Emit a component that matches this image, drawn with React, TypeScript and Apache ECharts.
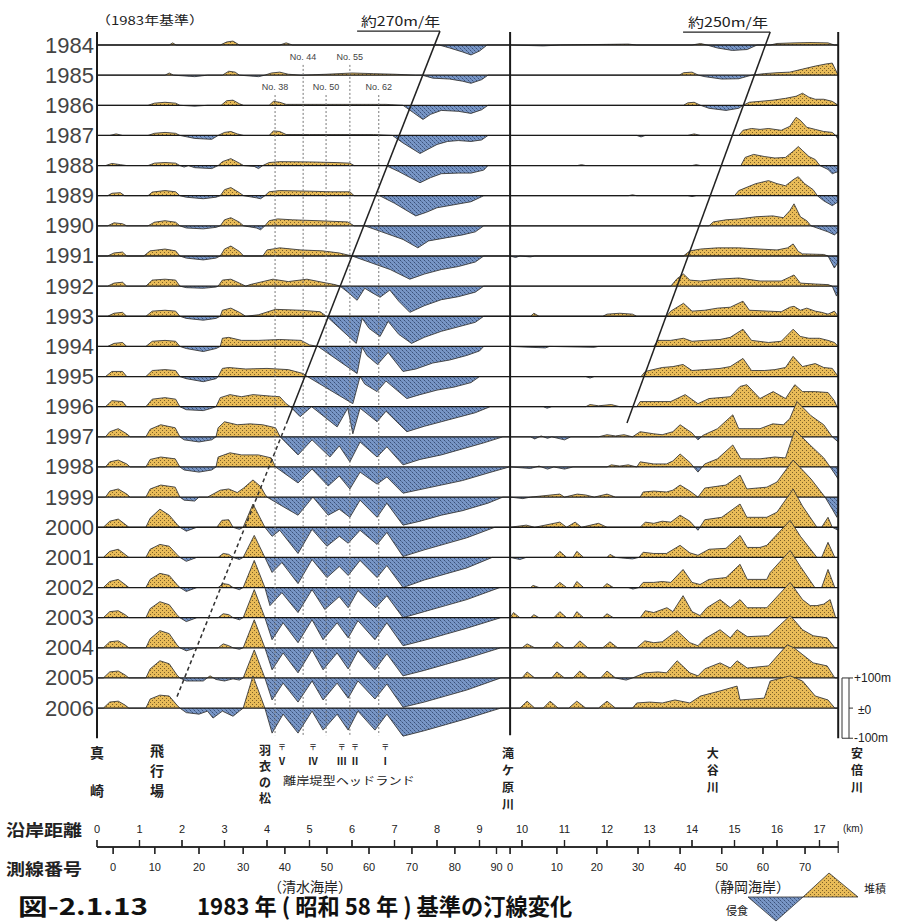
import { useEffect, useRef } from "react";
import * as echarts from "echarts";

// ---- Data (km along coast, shoreline change in m; + accretion, - erosion) ----
const YEARS = [1984, 1985, 1986, 1987, 1988, 1989, 1990, 1991, 1992, 1993, 1994, 1995, 1996, 1997, 1998, 1999, 2000, 2001, 2002, 2003, 2004, 2005, 2006];

const p1984: number[][] = [[0,0],[1.7,0],[1.78,7],[1.86,0],[2.9,0],[3.05,10],[3.2,13],[3.35,0],[4.3,0],[4.45,7],[4.6,0],[8.05,0],[8.3,-10],[8.6,-23],[8.8,-33],[9.0,-20],[9.18,0],
[9.72,0],[10.5,-3],[10.9,0],[12.5,3],[12.7,0],[14.0,0],[14.2,5],[14.35,0],[14.6,-10],[14.95,-18],[15.3,-15],[15.53,0],[15.84,0],[16.0,5],[16.4,7],[16.8,8],[17.2,7],[17.35,0],[17.44,0]];
const p1985: number[][] = [[0,0],[1.6,0],[1.7,7],[1.8,0],[2.3,-5],[2.6,0],[2.95,0],[3.1,13],[3.25,10],[3.35,0],[3.8,-5],[3.95,0],[4.1,7],[4.3,10],[4.5,3],[4.8,0],[5.4,3],[6.0,7],[6.5,5],[7.0,3],[7.5,0],[7.65,0],[7.9,-10],[8.3,-13],[8.6,-20],[8.8,-27],[9.05,-15],[9.2,0],
[9.72,0],[13.7,0],[13.8,8],[14.0,10],[14.15,0],[14.3,-5],[14.7,-13],[15.1,-12],[15.4,0],[15.7,5],[16.0,8],[16.3,10],[16.6,20],[16.9,30],[17.15,37],[17.3,40],[17.44,0]];
const p1986: number[][] = [[0,0],[1.2,0],[1.35,7],[1.6,10],[1.85,7],[1.95,0],[2.3,-3],[2.6,0],[2.92,0],[3.05,15],[3.2,17],[3.35,5],[3.45,0],[4.05,0],[4.15,13],[4.3,10],[4.45,3],[6.0,3],[6.8,3],[7.2,0],[7.45,-25],[7.67,-47],[7.85,-30],[8.1,-17],[8.5,-20],[8.8,-27],[9.05,-15],[9.2,0],
[9.72,0],[13.8,0],[13.9,8],[14.05,10],[14.2,0],[14.4,-10],[14.8,-17],[15.1,-10],[15.2,0],[15.35,10],[15.6,13],[15.9,17],[16.2,23],[16.45,30],[16.6,40],[16.75,27],[16.9,20],[17.1,20],[17.3,13],[17.44,0]];
const p1987: number[][] = [[0,0],[0.3,0],[0.45,5],[0.6,0],[1.2,0],[1.35,7],[1.6,10],[1.85,7],[1.95,0],[2.3,-10],[2.7,-13],[2.85,0],[3.0,10],[3.15,13],[3.3,5],[3.45,0],[4.05,0],[4.15,15],[4.3,13],[4.45,3],[5.0,3],[6.5,3],[6.95,0],[7.2,-25],[7.6,-60],[7.8,-45],[8.0,-30],[8.25,-20],[8.5,-17],[8.8,-20],[9.05,-15],[9.2,0],
[9.72,0],[12.7,0],[12.8,-5],[12.9,0],[13.9,0],[14.05,5],[14.2,0],[15.1,0],[15.2,17],[15.4,23],[15.6,20],[15.8,23],[16.1,17],[16.3,30],[16.45,60],[16.55,50],[16.7,27],[16.9,20],[17.1,13],[17.3,10],[17.38,0],[17.44,-13]];
const p1988: number[][] = [[0,0],[0.2,0],[0.35,7],[0.55,3],[0.7,0],[1.2,0],[1.35,8],[1.6,10],[1.85,8],[1.95,0],[2.05,-5],[2.15,0],[2.3,-7],[2.7,-10],[2.85,0],[2.95,13],[3.15,23],[3.35,8],[3.45,0],[3.7,-3],[3.8,-10],[3.9,0],[4.05,10],[4.3,13],[5.0,12],[5.6,10],[5.95,8],[6.05,0],[6.8,0],[7.1,-20],[7.6,-57],[7.85,-40],[8.1,-27],[8.5,-25],[8.8,-25],[9.1,-15],[9.2,0],
[9.72,0],[11.3,0],[11.4,3],[11.5,0],[14.0,0],[14.1,3],[14.2,0],[15.15,0],[15.25,27],[15.45,37],[15.7,30],[15.95,25],[16.2,27],[16.4,50],[16.5,63],[16.6,50],[16.75,30],[16.9,20],[17.01,0],[17.2,-13],[17.3,-27],[17.44,-20]];
const p1989: number[][] = [[0,0],[0.25,0],[0.35,8],[0.55,10],[0.65,0],[1.2,0],[1.3,12],[1.6,17],[1.85,13],[1.95,0],[2.1,-5],[2.5,-10],[2.8,-5],[2.9,0],[3.0,20],[3.15,27],[3.35,10],[3.45,0],[3.75,-7],[3.85,-10],[3.95,0],[4.05,13],[4.3,17],[5.0,15],[5.5,13],[5.95,13],[6.05,0],[6.65,0],[7.0,-25],[7.5,-67],[7.75,-55],[8.0,-40],[8.4,-30],[8.8,-20],[9.1,0],
[9.72,0],[12.5,0],[12.6,3],[12.7,0],[13.9,0],[14.0,-3],[14.1,0],[15.0,0],[15.1,17],[15.5,40],[15.8,50],[16.0,40],[16.2,33],[16.4,55],[16.5,63],[16.65,40],[16.85,20],[16.95,0],[17.1,-17],[17.3,-33],[17.44,-20]];
const p1990: number[][] = [[0,0],[0.25,0],[0.4,10],[0.6,7],[0.7,0],[1.2,0],[1.35,12],[1.6,17],[1.85,12],[1.95,0],[2.1,-7],[2.5,-10],[2.8,-5],[2.9,0],[3.0,20],[3.15,27],[3.35,12],[3.45,0],[3.75,-7],[3.85,-13],[3.95,0],[4.05,17],[4.25,23],[4.6,20],[5.2,17],[5.9,13],[6.05,0],[6.3,0],[6.7,-20],[7.2,-45],[7.55,-73],[7.8,-50],[8.2,-40],[8.6,-30],[8.9,-20],[9.1,0],
[9.72,0],[14.4,0],[14.5,13],[14.8,20],[15.1,23],[15.5,30],[15.9,33],[16.15,27],[16.3,50],[16.4,73],[16.55,30],[16.7,17],[16.8,0],[17.0,-10],[17.2,-20],[17.35,-30],[17.44,-20]];
const p1991: number[][] = [[0,0],[0.25,0],[0.4,10],[0.6,13],[0.7,0],[1.1,0],[1.25,17],[1.6,23],[1.85,17],[1.95,0],[2.1,-7],[2.5,-13],[2.8,-7],[2.9,0],[3.0,23],[3.15,33],[3.35,15],[3.45,0],[3.9,0],[4.0,20],[4.3,27],[4.8,20],[5.3,17],[5.7,10],[6.0,0],[6.4,-20],[6.9,-45],[7.36,-77],[7.7,-60],[8.1,-45],[8.5,-35],[8.9,-20],[9.1,0],
[9.72,0],[9.85,-5],[9.95,0],[10.2,-3],[10.3,0],[13.8,0],[13.95,17],[14.2,23],[14.6,27],[15.1,27],[15.6,23],[16.0,20],[16.25,27],[16.38,40],[16.5,15],[16.6,7],[17.1,5],[17.2,0],[17.35,-40],[17.44,-20]];
const p1992: number[][] = [[0,0],[0.25,0],[0.4,10],[0.6,13],[0.7,0],[1.15,0],[1.3,20],[1.6,23],[1.85,20],[1.95,0],[2.1,-5],[2.5,-7],[2.8,-3],[2.85,0],[2.95,20],[3.15,23],[3.35,10],[3.5,0],[3.6,5],[4.14,23],[4.5,15],[4.94,23],[5.3,13],[5.6,5],[5.72,0],[5.9,-20],[6.12,-47],[6.3,-7],[6.45,-20],[6.66,-37],[6.89,-13],[7.1,-50],[7.36,-87],[7.7,-65],[8.1,-45],[8.5,-35],[8.9,-20],[9.1,0],
[9.72,0],[13.5,0],[13.65,25],[13.8,40],[13.95,20],[14.2,17],[14.6,23],[15.1,27],[15.6,17],[16.1,17],[16.3,30],[16.4,37],[16.55,10],[16.9,7],[17.2,5],[17.3,0],[17.4,-33],[17.44,-20]];
const p1993: number[][] = [[0,0],[0.25,0],[0.4,10],[0.6,13],[0.7,0],[1.15,0],[1.3,17],[1.6,20],[1.85,17],[1.95,0],[2.1,-7],[2.5,-13],[2.8,-7],[2.9,0],[2.95,20],[3.15,27],[3.35,13],[3.5,0],[3.8,5],[4.2,23],[4.8,20],[5.25,15],[5.4,0],[6.1,-90],[6.24,-7],[6.4,-40],[6.66,-67],[6.85,-17],[7.1,-60],[7.4,-90],[7.7,-70],[8.1,-50],[8.5,-35],[8.9,-20],[9.1,0],
[9.72,0],[10.2,0],[10.28,10],[10.4,0],[11.9,0],[12.0,7],[12.3,10],[12.6,7],[12.7,0],[13.4,0],[13.5,17],[13.8,43],[14.0,17],[14.3,20],[14.6,27],[14.9,30],[15.2,50],[15.35,20],[15.8,17],[16.1,15],[16.3,30],[16.4,33],[16.55,20],[16.7,27],[16.9,17],[17.05,13],[17.2,7],[17.35,17],[17.44,0]];
const p1994: number[][] = [[0,0],[0.25,0],[0.4,10],[0.6,13],[0.7,0],[1.15,0],[1.3,17],[1.6,20],[1.85,17],[1.95,0],[2.1,-7],[2.5,-17],[2.8,-7],[2.9,0],[2.95,27],[3.1,30],[3.4,20],[3.8,20],[4.3,23],[4.8,20],[5.0,5],[5.2,0],[6.12,-90],[6.24,-3],[6.35,-30],[6.6,-60],[6.85,-20],[7.2,-83],[7.5,-75],[7.9,-55],[8.3,-45],[8.7,-30],[9.0,-15],[9.1,0],
[9.72,0],[10.55,-5],[10.65,0],[11.7,-3],[11.8,0],[13.1,0],[13.2,20],[13.5,20],[13.8,27],[14.0,17],[14.3,20],[14.66,23],[14.9,30],[15.2,57],[15.4,20],[15.8,13],[16.1,17],[16.38,57],[16.55,33],[16.75,27],[17.0,27],[17.2,20],[17.35,13],[17.44,0]];
const p1995: number[][] = [[0,0],[0.2,0],[0.35,17],[0.6,17],[0.7,0],[1.15,0],[1.3,20],[1.6,23],[1.85,20],[1.95,0],[2.1,-7],[2.5,-17],[2.8,-7],[2.85,0],[2.95,27],[3.1,30],[3.5,25],[4.0,27],[4.5,23],[4.85,10],[4.95,0],[6.02,-90],[6.19,0],[6.3,-25],[6.59,-50],[6.8,-15],[7.29,-73],[7.6,-60],[8.0,-45],[8.4,-35],[8.8,-20],[9.0,0],
[9.72,0],[11.5,0],[11.6,-5],[11.7,0],[12.8,0],[12.9,17],[13.3,30],[13.55,33],[13.79,40],[14.0,20],[14.3,23],[14.66,27],[14.9,33],[15.2,60],[15.4,20],[15.7,20],[15.95,23],[16.2,30],[16.38,67],[16.6,33],[16.9,43],[17.1,30],[17.3,27],[17.44,0]];
const p1996: number[][] = [[0,0],[0.2,0],[0.35,20],[0.6,17],[0.7,0],[1.15,0],[1.3,25],[1.6,30],[1.85,25],[1.95,0],[2.1,-10],[2.5,-13],[2.7,-5],[2.8,0],[2.9,30],[3.13,40],[3.4,33],[3.67,40],[4.1,35],[4.3,33],[4.45,10],[4.55,0],[4.78,-33],[5.05,0],[5.65,-67],[5.9,-5],[6.02,-90],[6.19,-5],[6.59,-50],[6.8,-15],[7.29,-83],[7.7,-65],[8.1,-50],[8.5,-35],[8.9,-20],[9.25,0],
[9.72,0],[10.5,0],[10.59,-5],[10.7,0],[11.5,0],[11.6,7],[11.8,3],[12.1,7],[12.3,0],[12.7,0],[12.78,17],[13.2,17],[13.5,17],[13.84,40],[14.14,10],[14.4,27],[14.9,33],[15.13,67],[15.29,73],[15.6,27],[15.91,50],[16.2,27],[16.42,73],[16.6,50],[16.9,50],[17.2,47],[17.35,20],[17.41,0],[17.44,-10]];
const p1997: number[][] = [[0,0],[0.2,0],[0.3,17],[0.5,27],[0.7,10],[0.78,0],[1.15,0],[1.25,25],[1.5,40],[1.84,30],[1.95,0],[2.05,-10],[2.4,-17],[2.7,-10],[2.8,0],[2.85,30],[3.0,50],[3.3,40],[3.6,43],[3.9,40],[4.2,30],[4.31,0],[4.73,-60],[5.06,-10],[5.48,-67],[5.7,-30],[5.95,-83],[6.19,-17],[6.59,-67],[6.82,-33],[7.2,-93],[7.6,-75],[8.1,-60],[8.6,-40],[9.1,-20],[9.55,0],
[9.72,0],[10.2,0],[10.3,-7],[10.45,3],[10.6,-5],[10.7,0],[11.0,-10],[11.15,0],[11.8,0],[12.0,7],[12.2,3],[12.4,7],[12.6,0],[12.78,17],[13.1,10],[13.3,7],[13.55,17],[13.72,40],[14.0,13],[14.14,-10],[14.26,5],[14.6,27],[14.96,73],[15.1,27],[15.6,27],[15.9,43],[16.15,40],[16.3,60],[16.47,117],[16.8,70],[17.1,40],[17.3,0],[17.44,-17]];
const p1998: number[][] = [[0,0],[0.2,0],[0.3,17],[0.5,23],[0.7,10],[0.78,0],[1.15,0],[1.25,25],[1.5,33],[1.84,27],[1.95,0],[2.05,-10],[2.4,-17],[2.7,-10],[2.8,0],[2.85,33],[3.13,47],[3.4,40],[3.8,40],[4.1,30],[4.2,0],[4.73,-53],[5.06,-7],[5.44,-63],[5.7,-30],[5.95,-73],[6.19,-17],[6.59,-57],[6.82,-33],[7.2,-87],[7.6,-75],[8.1,-60],[8.6,-45],[9.2,-20],[9.7,0],
[9.72,0],[10.2,-5],[10.4,3],[10.6,-7],[10.75,0],[11.0,-7],[11.2,0],[12.0,0],[12.1,7],[12.3,3],[12.5,7],[12.7,0],[12.78,17],[13.1,10],[13.4,10],[13.55,20],[13.72,43],[13.95,15],[14.14,-17],[14.3,10],[14.6,27],[14.96,73],[15.15,27],[15.6,27],[15.95,33],[16.2,30],[16.42,123],[16.8,70],[17.1,30],[17.25,0],[17.44,-40]];
const p1999: number[][] = [[0,0],[0.2,0],[0.3,20],[0.5,27],[0.7,10],[0.78,0],[1.15,0],[1.25,27],[1.5,40],[1.84,33],[1.95,0],[2.05,-10],[2.3,-13],[2.4,0],[2.6,0],[2.9,23],[3.1,27],[3.3,15],[3.45,30],[3.67,57],[3.85,35],[3.95,10],[4.0,0],[4.3,-25],[4.73,-60],[5.08,0],[5.44,-60],[5.7,-40],[5.95,-67],[6.19,-10],[6.59,-67],[6.82,-20],[7.2,-93],[7.6,-80],[8.1,-60],[8.6,-45],[9.2,-20],[9.55,0],
[9.72,0],[10.02,-5],[10.2,0],[10.89,10],[11.0,0],[11.3,10],[11.5,7],[11.7,0],[12.0,10],[12.2,0],[12.78,0],[12.85,17],[13.1,20],[13.4,17],[13.55,23],[13.72,40],[13.95,20],[14.14,0],[14.3,30],[14.8,40],[15.13,73],[15.29,27],[15.76,33],[16.0,50],[16.38,123],[16.8,60],[17.13,0],[17.3,-40],[17.41,-67],[17.44,-40]];
const p2000: number[][] = [[0,0],[0.15,0],[0.3,20],[0.5,27],[0.66,10],[0.75,0],[1.15,0],[1.25,30],[1.48,60],[1.7,40],[1.88,10],[1.95,0],[2.1,-13],[2.35,0],[2.82,0],[2.94,23],[3.1,25],[3.2,0],[3.35,-7],[3.44,0],[3.67,77],[3.95,0],[4.12,-30],[4.3,-10],[4.73,-87],[5.06,-7],[5.41,-63],[5.7,-30],[5.91,-53],[6.19,-10],[6.59,-57],[6.82,-17],[7.2,-97],[7.7,-75],[8.2,-55],[8.7,-35],[9.36,0],
[9.72,0],[10.1,7],[10.3,0],[10.89,17],[11.05,0],[11.25,17],[11.4,0],[11.8,13],[12.0,0],[12.78,0],[12.9,17],[13.1,13],[13.3,20],[13.5,17],[13.72,40],[13.95,20],[14.14,-10],[14.3,25],[14.7,33],[15.13,77],[15.29,33],[15.76,33],[16.0,50],[16.38,127],[16.6,70],[16.94,0],[17.05,0],[17.2,33],[17.3,0],[17.44,-10]];
const p2001: number[][] = [[0,0],[0.15,0],[0.3,20],[0.5,27],[0.66,10],[0.75,0],[1.15,0],[1.25,27],[1.48,43],[1.7,37],[1.88,10],[1.95,0],[2.1,-13],[2.35,0],[2.85,0],[2.97,13],[3.1,10],[3.2,0],[3.35,-7],[3.44,0],[3.7,73],[3.95,0],[4.12,-50],[4.35,-17],[4.73,-87],[5.06,-7],[5.41,-67],[5.7,-30],[5.91,-60],[6.19,-10],[6.59,-67],[6.82,-27],[7.2,-100],[7.7,-75],[8.2,-55],[8.7,-35],[9.3,0],
[9.72,0],[9.95,-7],[10.1,0],[10.75,0],[10.89,20],[11.05,0],[11.2,0],[11.29,20],[11.45,0],[12.0,0],[12.07,10],[12.2,0],[12.6,-5],[12.75,0],[12.85,17],[13.1,13],[13.4,13],[13.72,40],[13.95,15],[14.14,7],[14.4,27],[14.8,30],[15.13,73],[15.3,33],[15.6,33],[15.76,40],[16.31,123],[16.55,70],[16.94,0],[17.05,0],[17.2,50],[17.36,0],[17.44,0]];
const p2002: number[][] = [[0,0],[0.15,0],[0.3,20],[0.5,27],[0.66,10],[0.75,0],[1.15,0],[1.25,27],[1.48,47],[1.7,40],[1.88,10],[1.95,0],[2.1,-13],[2.35,0],[2.85,0],[2.97,13],[3.1,10],[3.2,0],[3.35,-7],[3.44,0],[3.7,90],[3.95,0],[4.07,-60],[4.35,-17],[4.73,-83],[5.06,-7],[5.36,-73],[5.7,-30],[5.91,-67],[6.14,-10],[6.56,-67],[6.82,-27],[7.2,-100],[7.7,-80],[8.2,-60],[8.7,-40],[9.48,0],
[9.72,0],[10.2,0],[10.26,7],[10.4,0],[10.75,0],[10.89,17],[11.05,0],[11.2,0],[11.29,20],[11.45,0],[11.9,0],[12.0,13],[12.15,0],[12.5,0],[12.61,-5],[12.75,0],[12.85,17],[13.1,17],[13.3,20],[13.5,17],[13.79,60],[14.0,17],[14.19,10],[14.4,27],[14.8,33],[15.13,77],[15.3,27],[15.76,27],[15.84,50],[16.31,123],[16.55,70],[16.89,0],[17.05,0],[17.2,60],[17.36,0],[17.44,0]];
const p2003: number[][] = [[0,0],[0.15,0],[0.3,20],[0.5,23],[0.66,10],[0.75,0],[1.15,0],[1.25,30],[1.48,53],[1.7,43],[1.88,10],[1.95,0],[2.1,-13],[2.35,0],[2.85,0],[2.97,13],[3.1,10],[3.2,0],[3.35,-7],[3.44,0],[3.7,93],[3.95,0],[4.12,-73],[4.38,-17],[4.73,-83],[5.06,-7],[5.32,-73],[5.65,-17],[5.91,-67],[6.14,-10],[6.54,-73],[6.82,-17],[7.2,-93],[7.7,-75],[8.2,-55],[8.7,-35],[9.5,0],
[9.72,0],[9.8,17],[9.95,0],[10.2,0],[10.28,10],[10.4,0],[10.75,0],[10.89,20],[11.05,0],[11.2,0],[11.29,20],[11.45,0],[11.9,0],[12.0,13],[12.15,0],[12.78,0],[12.9,23],[13.1,17],[13.41,33],[13.55,20],[13.79,73],[14.0,20],[14.19,7],[14.35,33],[14.66,60],[14.9,33],[15.13,60],[15.3,33],[15.76,33],[16.31,117],[16.6,60],[16.78,40],[16.94,40],[17.1,45],[17.25,60],[17.38,0],[17.44,0]];
const p2004: number[][] = [[0,0],[0.15,0],[0.3,20],[0.5,23],[0.66,10],[0.75,0],[1.15,0],[1.25,30],[1.48,57],[1.7,47],[1.88,10],[1.95,0],[2.1,-10],[2.35,0],[2.85,0],[2.97,13],[3.1,7],[3.2,0],[3.35,-5],[3.44,0],[3.7,93],[3.95,0],[4.12,-73],[4.38,-17],[4.73,-83],[5.06,-7],[5.32,-73],[5.65,-17],[5.91,-70],[6.14,-10],[6.54,-73],[6.82,-20],[7.2,-93],[7.7,-75],[8.2,-55],[8.7,-35],[9.5,0],
[9.72,0],[10.0,0],[10.12,13],[10.3,0],[10.7,0],[10.82,20],[11.0,0],[11.2,0],[11.36,23],[11.55,0],[11.9,0],[12.07,20],[12.25,0],[12.7,0],[12.89,23],[13.1,17],[13.3,20],[13.65,57],[13.95,17],[14.14,7],[14.3,30],[14.66,60],[14.9,33],[15.06,60],[15.3,37],[15.8,40],[16.31,107],[16.6,60],[16.85,40],[17.18,33],[17.36,0],[17.44,0]];
const p2005: number[][] = [[0,0],[0.15,0],[0.3,20],[0.5,23],[0.66,10],[0.75,0],[1.15,0],[1.25,30],[1.48,57],[1.7,47],[1.88,10],[1.95,0],[2.1,-10],[2.5,-10],[2.66,7],[2.8,-5],[3.0,-10],[3.2,-3],[3.35,-7],[3.44,0],[3.7,93],[3.95,0],[4.12,-73],[4.38,-17],[4.73,-80],[5.06,-10],[5.32,-73],[5.65,-17],[5.91,-67],[6.14,-10],[6.54,-70],[6.82,-20],[7.2,-97],[7.7,-80],[8.2,-60],[8.7,-40],[9.5,0],
[9.72,0],[10.0,0],[10.12,20],[10.3,0],[10.7,0],[10.82,20],[11.0,0],[11.2,0],[11.36,23],[11.55,0],[11.85,0],[12.0,23],[12.2,0],[12.45,-7],[12.6,0],[12.89,17],[13.2,20],[13.4,17],[13.65,57],[13.95,17],[14.14,7],[14.3,30],[14.66,50],[14.9,33],[15.06,57],[15.3,33],[15.8,40],[16.24,110],[16.4,100],[16.85,50],[17.18,40],[17.36,0],[17.44,0]];
const p2006: number[][] = [[0,0],[0.15,0],[0.3,20],[0.5,23],[0.66,10],[0.75,0],[1.15,0],[1.25,30],[1.48,43],[1.7,40],[1.88,10],[1.95,0],[2.1,-15],[2.4,-20],[2.6,-10],[2.73,-33],[2.95,-10],[3.2,-27],[3.35,-10],[3.44,0],[3.67,107],[3.95,0],[4.12,-83],[4.38,-20],[4.73,-83],[5.06,-10],[5.32,-73],[5.65,-20],[5.91,-73],[6.14,-10],[6.54,-73],[6.82,-20],[7.2,-93],[7.7,-75],[8.2,-55],[8.7,-35],[9.5,0],
[9.72,0],[9.95,0],[10.12,23],[10.3,0],[10.5,0],[10.66,23],[10.85,0],[11.1,0],[11.29,23],[11.5,0],[11.8,0],[12.0,23],[12.2,0],[12.6,0],[12.7,17],[13.0,20],[13.3,17],[13.6,27],[13.95,17],[14.2,40],[14.66,57],[15.06,73],[15.13,27],[15.7,33],[15.84,90],[16.31,107],[16.6,90],[16.9,40],[17.2,27],[17.36,0],[17.44,0]];

const PROFILES = [p1984, p1985, p1986, p1987, p1988, p1989, p1990, p1991, p1992, p1993, p1994, p1995, p1996, p1997, p1998, p1999, p2000, p2001, p2002, p2003, p2004, p2005, p2006];

// distance axis ticks (km)
const KM_TICKS = [0, 1, 2, 3, 4, 5, 6, 7, 8, 9, 10, 11, 12, 13, 14, 15, 16, 17];
// survey line ticks (km position -> survey number)
const SURVEY_KM = [0.38, 1.36, 2.4, 3.44, 4.42, 5.41, 6.4, 7.41, 8.42, 9.4, 9.72, 10.82, 11.76, 12.73, 13.72, 14.7, 15.67, 16.66];
const SURVEY_NO = ["0", "10", "20", "30", "40", "50", "60", "70", "80", "90", "0", "10", "20", "30", "40", "50", "60", "70"];

// monitored survey lines (dotted)
const NO_LINE_KM = [4.19, 4.85, 5.39, 5.95, 6.63];
const NO_LINE_LABEL = ["No. 38", "No. 44", "No. 50", "No. 55", "No. 62"];
const NO_LINE_TOP = [-166, -66, -166, -66, -166];

// headlands
const HEADLAND_KM = [4.35, 5.08, 5.76, 6.07, 6.78];
const HEADLAND_LABEL = ["Ⅴ", "Ⅳ", "Ⅲ", "Ⅱ", "Ⅰ"];

// place names along the coast
const PLACE_NAME = ["真崎", "飛行場", "羽衣の松", "滝ケ原川", "大谷川", "安倍川"];
const PLACE_KM = [0, 1.41, 3.95, 9.67, 14.49, 17.88];

// front-advance lines  [km, value on row axis]
const RATE270 = [[6.12, 46], [8.07, 46], [4.49, -1244], [1.88, -2163]];
const RATE250 = [[13.79, 43], [15.84, 43], [12.47, -1254]];

const X_MAX = 17.44;
const ROW = 100;
const DIVIDE_KM = 9.72;
const PX_PER_M = 0.30141;
const GRID_LEFT = 97;
const GRID_WIDTH = 741.2;
const GRID_TOP = 45 - 100 * PX_PER_M;
const AXIS_Y = 847;
const CJK = '"Noto Sans CJK JP", sans-serif';

function measure(text: string, font: string) {
  const c = document.createElement("canvas").getContext("2d")!;
  c.font = font;
  return c.measureText(text).width;
}

function makePattern(base: string, dot: string, cross: boolean) {
  const c = document.createElement("canvas");
  c.width = 4;
  c.height = 4;
  const ctx = c.getContext("2d")!;
  ctx.fillStyle = base;
  ctx.fillRect(0, 0, 4, 4);
  ctx.fillStyle = dot;
  ctx.fillRect(0, 0, 1, 1);
  ctx.fillRect(2, 2, 1, 1);
  if (cross) {
    ctx.globalAlpha = 0.5;
    ctx.fillRect(1, 1, 1, 1);
    ctx.fillRect(3, 3, 1, 1);
  }
  return { image: c, repeat: "repeat", imageWidth: 4, imageHeight: 4 } as any;
}

// same linear mapping as the grid (used only for annotations)
const P = (x: number, v: number) => [GRID_LEFT + (x / X_MAX) * GRID_WIDTH, GRID_TOP + (100 - v) * PX_PER_M];

// bottom scale rendered into a small bitmap (line + km ticks up + survey ticks down)
function scaleImage() {
  const pad = 4;
  const w = Math.ceil(GRID_WIDTH) + pad * 2;
  const h = 20;
  const c = document.createElement("canvas");
  c.width = w;
  c.height = h;
  const ctx = c.getContext("2d")!;
  ctx.fillStyle = "#222";
  const mid = 10;
  const X = (km: number) => pad + (km / X_MAX) * GRID_WIDTH;
  ctx.fillRect(X(0), mid - 0.75, X(X_MAX) - X(0), 1.5);
  ctx.fillRect(X(X_MAX) - 0.6, mid - 6, 1.2, 12);
  KM_TICKS.forEach((km) => ctx.fillRect(X(km) - 0.6, mid - 7, 1.2, 7));
  SURVEY_KM.forEach((km) => ctx.fillRect(X(km) - 0.6, mid, 1.2, 7));
  return { canvas: c, x: GRID_LEFT - pad, y: AXIS_Y - mid, w, h };
}

export default function App() {
  const ref = useRef<HTMLDivElement>(null);
  useEffect(() => {
    const chart = echarts.init(ref.current!, null, { renderer: "svg" });
    const ORANGE = makePattern("#E8BB58", "#7d6128", false);
    const BLUE = makePattern("#7896C6", "#3b5179", true);

    const g: any[] = [];
    const seg = (a: number[], b: number[], stroke: string, lw: number, dash?: number[]) => {
      const style: any = { stroke, lineWidth: lw };
      if (dash) style.lineDash = dash;
      g.push({ type: "line", shape: { x1: a[0], y1: a[1], x2: b[0], y2: b[1] }, style, z: 10 });
    };
    const text = (t: string, x: number, y: number, o: any = {}) => {
      const { fitWidth, ...st } = o;
      const fontSize = st.fontSize || 12;
      const fontWeight = st.fontWeight || "normal";
      const fontFamily = st.fontFamily || CJK;
      let scaleX = 1;
      if (fitWidth) {
        const w = measure(t, `${fontWeight} ${fontSize}px ${fontFamily}`);
        if (w > 0) scaleX = fitWidth / w;
      }
      g.push({
        type: "text", x, y, scaleX, z: 20,
        style: { text: t, fill: "#222", fontSize, fontWeight, fontFamily, align: "left", verticalAlign: "middle", ...st },
      });
    };

    // bottom distance / survey-number scale (bitmap + vector)
    const sc = scaleImage();
    g.push({ type: "image", x: sc.x, y: sc.y, z: 30, style: { image: sc.canvas.toDataURL(), width: sc.w, height: sc.h } });
    const xL = P(0, 0)[0];
    const xR = P(X_MAX, 0)[0];
    seg([xL, AXIS_Y], [xR, AXIS_Y], "#222", 1.5);
    KM_TICKS.forEach((km) => {
      const x = P(km, 0)[0];
      seg([x, AXIS_Y - 7], [x, AXIS_Y], "#222", 1.2);
    });
    SURVEY_KM.forEach((km) => {
      const x = P(km, 0)[0];
      seg([x, AXIS_Y], [x, AXIS_Y + 7], "#222", 1.2);
    });

    // frame verticals
    seg(P(0, 43), P(0, -2300), "#1a1a1a", 2);
    seg(P(DIVIDE_KM, 43), P(DIVIDE_KM, -2290), "#1a1a1a", 2);
    seg(P(X_MAX, 43), P(X_MAX, -2300), "#1a1a1a", 2);

    // dotted survey lines
    NO_LINE_KM.forEach((km, k) => {
      seg(P(km, NO_LINE_TOP[k]), P(km, -2290), "#777", 1, [2, 2]);
      const p = P(km, NO_LINE_TOP[k]);
      text(NO_LINE_LABEL[k], p[0], p[1] - 8, { fontSize: 9, align: "center", fontFamily: "Liberation Sans", fill: "#444" });
    });

    // rate lines
    seg(P(RATE270[0][0], RATE270[0][1]), P(RATE270[1][0], RATE270[1][1]), "#222", 1.3);
    seg(P(RATE270[1][0], RATE270[1][1]), P(RATE270[2][0], RATE270[2][1]), "#222", 1.5);
    seg(P(RATE270[2][0], RATE270[2][1]), P(RATE270[3][0], RATE270[3][1]), "#333", 1.5, [4, 3]);
    seg(P(RATE250[0][0], RATE250[0][1]), P(RATE250[1][0], RATE250[1][1]), "#222", 1.3);
    seg(P(RATE250[1][0], RATE250[1][1]), P(RATE250[2][0], RATE250[2][1]), "#222", 1.5);
    text("約270m/年", 361, 20, { fontSize: 13, fitWidth: 79 });
    text("約250m/年", 688, 21, { fontSize: 13, fitWidth: 80 });
    text("（1983年基準）", 96, 20, { fontSize: 12, fitWidth: 108 });

    // place names (vertical)
    const charYs = [[752, 790], [750, 770, 790], [749, 765, 781, 797], [752, 769, 786, 803], [752, 769, 786], [752, 769, 786]];
    const charSize = [14, 14, 12, 12, 12, 12];
    PLACE_NAME.forEach((nm, k) => {
      const x = P(PLACE_KM[k], 0)[0];
      nm.split("").forEach((ch, j) => text(ch, x, charYs[k][j], { fontSize: charSize[k], fontWeight: "bold", align: "center" }));
    });
    HEADLAND_KM.forEach((km, k) => {
      const x = P(km, 0)[0];
      text("〒", x, 746, { fontSize: 8, align: "center" });
      text(HEADLAND_LABEL[k], x, 760, { fontSize: 10, align: "center", fontWeight: "bold" });
    });
    text("離岸堤型ヘッドランド", 283, 780, { fontSize: 11, fitWidth: 132 });

    // scale tick labels
    KM_TICKS.forEach((km) => text(String(km), P(km, 0)[0], 829, { fontSize: 11, align: "center", fontFamily: "Liberation Sans" }));
    SURVEY_KM.forEach((km, k) => text(SURVEY_NO[k], P(km, 0)[0], 867, { fontSize: 11, align: "center", fontFamily: "Liberation Sans" }));

    // axis captions
    text("沿岸距離", 6, 829, { fontSize: 16, fontWeight: "bold", fitWidth: 76 });
    text("測線番号", 6, 868, { fontSize: 16, fontWeight: "bold", fitWidth: 76 });
    text("(km)", 843, 828, { fontSize: 10, fontFamily: "Liberation Sans" });
    text("（清水海岸）", 310, 886, { fontSize: 14, align: "center" });
    text("（静岡海岸）", 748, 886, { fontSize: 14, align: "center" });

    // scale bar
    const sTop = P(X_MAX, -2100)[1];
    const sMid = P(X_MAX, -2200)[1];
    const sBot = P(X_MAX, -2300)[1];
    seg([842, sTop], [842, sBot], "#333", 1);
    seg([849, sTop], [849, sBot], "#333", 1);
    seg([842, sTop], [853, sTop], "#333", 1);
    seg([849, sMid], [853, sMid], "#333", 1);
    seg([842, sBot], [853, sBot], "#333", 1);
    text("+100m", 854, sTop, { fontSize: 12, fontFamily: "Liberation Sans" });
    text("±0", 858, sMid + 2, { fontSize: 12, fontFamily: "Liberation Sans" });
    text("-100m", 854, sBot, { fontSize: 12, fontFamily: "Liberation Sans" });

    // legend
    g.push({ type: "polygon", shape: { points: [[748, 897], [803, 897], [776, 921]] }, style: { fill: BLUE, stroke: "#333", lineWidth: 0.8 }, z: 10 });
    g.push({ type: "polygon", shape: { points: [[803, 897], [858, 897], [829, 873]] }, style: { fill: ORANGE, stroke: "#333", lineWidth: 0.8 }, z: 10 });
    text("堆積", 864, 888, { fontSize: 11 });
    text("侵食", 726, 910, { fontSize: 11 });

    // title
    text("図-2.1.13", 18, 905, { fontSize: 23, fontWeight: "bold", fitWidth: 130, fill: "#111" });
    text("1983 年 ( 昭和 58 年 ) 基準の汀線変化", 197, 905, { fontSize: 23, fontWeight: "bold", fitWidth: 375, fill: "#111" });

    chart.setOption({
      animation: false,
      backgroundColor: "#fff",
      grid: { left: GRID_LEFT, top: GRID_TOP, width: GRID_WIDTH, height: 2400 * PX_PER_M },
      xAxis: { type: "value", min: 0, max: X_MAX, show: false },
      yAxis: {
        type: "value", min: -2300, max: 100, interval: 100,
        axisLine: { show: false }, axisTick: { show: false }, splitLine: { show: false },
        axisLabel: {
          margin: 3, fontSize: 22, color: "#444", fontFamily: '"Liberation Sans Narrow", "Liberation Sans"',
          formatter: (v: number) => {
            const i = Math.round(-v / ROW);
            return v <= 0 && i >= 0 && i < YEARS.length ? String(YEARS[i]) : "";
          },
        },
      },
      graphic: g,
      series: [
        {
          type: "custom",
          coordinateSystem: "cartesian2d",
          encode: { x: 0, y: 1 },
          data: YEARS.map((_, i) => [0, -i * ROW, i]),
          renderItem: (_p: any, api: any) => {
            const i = api.value(2) as number;
            const pts = PROFILES[i];
            const off = -i * ROW;
            const seq: number[][] = [];
            for (let k = 0; k < pts.length; k++) {
              const [x, v] = pts[k];
              if (k > 0) {
                const [x0, v0] = pts[k - 1];
                if ((v0 > 0 && v < 0) || (v0 < 0 && v > 0)) {
                  const t = v0 / (v0 - v);
                  seq.push([x0 + t * (x - x0), 0]);
                }
              }
              seq.push([x, v]);
            }
            const x0 = seq[0][0];
            const x1 = seq[seq.length - 1][0];
            const pos = [[x0, 0], ...seq.map(([x, v]) => [x, Math.max(v, 0)]), [x1, 0]].map(([x, v]) => api.coord([x, v + off]));
            const neg = [[x0, 0], ...seq.map(([x, v]) => [x, Math.min(v, 0)]), [x1, 0]].map(([x, v]) => api.coord([x, v + off]));
            const prof = seq.map(([x, v]) => api.coord([x, v + off]));
            const b0 = api.coord([0, off]);
            const b1 = api.coord([X_MAX, off]);
            return {
              type: "group",
              children: [
                { type: "polygon", shape: { points: pos }, style: { fill: ORANGE, stroke: "none" } },
                { type: "polygon", shape: { points: neg }, style: { fill: BLUE, stroke: "none" } },
                { type: "polyline", shape: { points: prof }, style: { fill: "none", stroke: "#3a3a3a", lineWidth: 0.9 } },
                { type: "line", shape: { x1: b0[0], y1: b0[1], x2: b1[0], y2: b1[1] }, style: { stroke: "#1a1a1a", lineWidth: 1.3 } },
              ],
            };
          },
        },
      ],
    });
    return () => chart.dispose();
  }, []);
  return <div ref={ref} style={{ position: "absolute", left: 0, top: 0, width: 900, height: 922, background: "#fff" }} />;
}
